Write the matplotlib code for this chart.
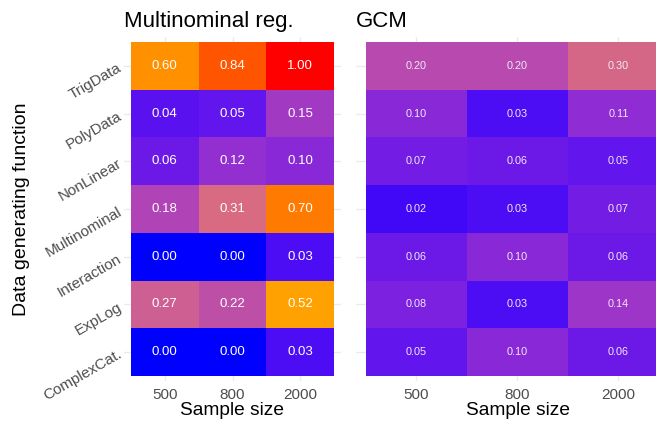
import numpy as np
import matplotlib
matplotlib.use("Agg")
import matplotlib.pyplot as plt
from matplotlib.colors import ListedColormap, to_rgb

# data
functions = ["TrigData", "PolyData", "NonLinear", "Multinominal",
             "Interaction", "ExpLog", "ComplexCat."]
sample_sizes = ["500", "800", "2000"]

multinom_vals = [
    [0.60, 0.84, 1.00],
    [0.04, 0.05, 0.15],
    [0.06, 0.12, 0.10],
    [0.18, 0.31, 0.70],
    [0.00, 0.00, 0.03],
    [0.27, 0.22, 0.52],
    [0.00, 0.00, 0.03],
]
gcm_vals = [
    [0.20, 0.20, 0.30],
    [0.10, 0.03, 0.11],
    [0.07, 0.06, 0.05],
    [0.02, 0.03, 0.07],
    [0.06, 0.10, 0.06],
    [0.08, 0.03, 0.14],
    [0.05, 0.10, 0.06],
]


# colour ramp blue -> orange -> red, interpolated in CIELAB like ggplot
def srgb_to_lab(c):
    c = np.asarray(c, dtype=float)
    lin = np.where(c <= 0.04045, c / 12.92, ((c + 0.055) / 1.055) ** 2.4)
    m = np.array([[0.4124, 0.3576, 0.1805],
                  [0.2126, 0.7152, 0.0722],
                  [0.0193, 0.1192, 0.9505]])
    xyz = m @ lin / np.array([0.95047, 1.0, 1.08883])
    f = np.where(xyz > 0.008856, np.cbrt(xyz), 7.787 * xyz + 16 / 116)
    return np.array([116 * f[1] - 16, 500 * (f[0] - f[1]), 200 * (f[1] - f[2])])


def lab_to_srgb(lab):
    L, a, b = lab
    fy = (L + 16) / 116
    fx = fy + a / 500
    fz = fy - b / 200
    f = np.array([fx, fy, fz])
    xyz = np.where(f ** 3 > 0.008856, f ** 3, (f - 16 / 116) / 7.787)
    xyz = xyz * np.array([0.95047, 1.0, 1.08883])
    m = np.array([[3.2406, -1.5372, -0.4986],
                  [-0.9689, 1.8758, 0.0415],
                  [0.0557, -0.2040, 1.0570]])
    lin = m @ xyz
    lin = np.clip(lin, 0, 1)
    c = np.where(lin <= 0.0031308, 12.92 * lin, 1.055 * lin ** (1 / 2.4) - 0.055)
    return np.clip(c, 0, 1)


anchors = [srgb_to_lab(to_rgb(c)) for c in ["blue", "orange", "red"]]
ramp = []
for t in np.linspace(0, 1, 256):
    if t <= 0.5:
        lab = anchors[0] + (anchors[1] - anchors[0]) * (t / 0.5)
    else:
        lab = anchors[1] + (anchors[2] - anchors[1]) * ((t - 0.5) / 0.5)
    ramp.append(lab_to_srgb(lab))
cmap = ListedColormap(ramp)

plt.rcParams['font.family'] = ['Liberation Sans', 'DejaVu Sans']

W, H = 656, 424
fig = plt.figure(figsize=(W / 100, H / 100), dpi=100)

top, bottom = 37.2, 380.8
ax1 = fig.add_axes([124.2 / W, (H - bottom) / H, (340.8 - 124.2) / W, (bottom - top) / H])
ax2 = fig.add_axes([355.9 / W, (H - bottom) / H, (679.1 - 355.9) / W, (bottom - top) / H])


def heat(ax, vals, title, fs, txtcol):
    vals = np.array(vals)
    nr, nc = vals.shape
    ax.pcolormesh(np.arange(nc + 1) - 0.5, np.arange(nr + 1) - 0.5, vals,
                  cmap=cmap, vmin=0, vmax=1, zorder=2)
    for i in range(nr):
        for j in range(nc):
            ax.text(j, i, f"{vals[i, j]:.2f}", ha='center', va='center',
                    color=txtcol, fontsize=fs, zorder=3)
    ax.set_xlim(-0.6, nc - 0.4)
    ax.set_ylim(nr - 0.4, -0.6)
    ax.set_xticks(range(nc))
    ax.set_xticklabels(sample_sizes)
    ax.set_yticks(range(nr))
    ax.grid(True, color='#EBEBEB', linewidth=1.0, zorder=0)
    ax.set_axisbelow(True)
    for s in ax.spines.values():
        s.set_visible(False)
    ax.tick_params(length=0, labelsize=11, labelcolor='#4D4D4D')
    ax.tick_params(axis='x', pad=5)
    ax.set_xlabel("Sample size", fontsize=13.8, labelpad=0)
    ax.set_title(title, loc='left', fontsize=16, pad=7)


heat(ax1, multinom_vals, "Multinominal reg.", 9.5, 'white')
heat(ax2, gcm_vals, "GCM", 7.8, '#F2E8F8')

ax1.set_yticklabels(functions, rotation=30, ha='right', rotation_mode='anchor')
ax1.tick_params(axis='y', pad=3)
ax2.set_yticklabels([])

fig.text(22 / W, 1 - 209 / H, "Data generating function", rotation=90,
         ha='center', va='center', fontsize=14)

fig.savefig("out.png", dpi=100)
